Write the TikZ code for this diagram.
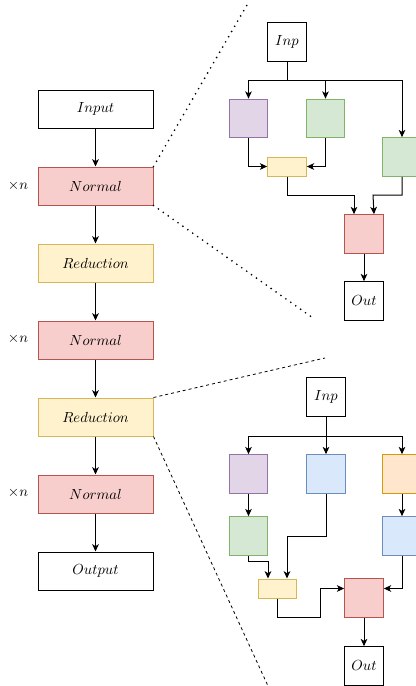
\documentclass[tikz,border=0pt]{standalone}
\usepackage{amssymb, amsmath}
\usepackage{tikz}
\usetikzlibrary{arrows.meta}

\definecolor{purplef}{HTML}{E1D5E7}\definecolor{purpled}{HTML}{9673A6}
\definecolor{greenf}{HTML}{D5E8D4}\definecolor{greend}{HTML}{82B366}
\definecolor{yellowf}{HTML}{FFF2CC}\definecolor{yellowd}{HTML}{D6B656}
\definecolor{redf}{HTML}{F8CECC}\definecolor{redd}{HTML}{B85450}
\definecolor{bluef}{HTML}{DAE8FC}\definecolor{blued}{HTML}{6C8EBF}
\definecolor{orangef}{HTML}{FFE6CC}\definecolor{oranged}{HTML}{D79B00}

\begin{document}
\begin{tikzpicture}[x=0.75pt,y=-0.75pt,->,>={Stealth[length=5.5pt,width=5pt,inset=1.5pt]},line width=0.75pt,node distance=57.75pt,
		font=\fontsize{10.5}{12}\selectfont,
		blk/.style={draw,minimum width=86.25pt,minimum height=28.5pt,inner sep=0pt},
		normal/.style={blk,fill=redf,draw=redd},
		redu/.style={blk,fill=yellowf,draw=yellowd},
		op/.style={draw,minimum size=29pt,inner sep=0pt},
		sum/.style={draw=yellowd,fill=yellowf,minimum width=29pt,minimum height=14.25pt,inner sep=0pt},
		dotline/.style={-,line width=1.4pt,line cap=round,dash pattern=on 0pt off 4.5pt},
		dashline/.style={-,line width=0.6pt,dash pattern=on 2.25pt off 2.25pt}]

		\useasboundingbox (0,0) rectangle (415,686);

		% outer network
		\node[blk] (1) at (95.5,109) {$Input$};
		\node[normal] (2) [below of=1] {$Normal$};
		\node[redu] (3) [below of=2] {$Reduction$};
		\node[normal] (4) [below of=3] {$Normal$};
		\node[redu] (5) [below of=4] {$Reduction$};
		\node[normal] (6) [below of=5] {$Normal$};
		\node[blk] (7) [below of=6] {$Output$};

		\node (x1) at (18,186) {$\times n$};
		\node (x2) at (18,339) {$\times n$};
		\node (x3) at (18,493) {$\times n$};

		\path (1) edge (2) (2) edge (3) (3) edge (4) (4) edge (5) (5) edge (6) (6) edge (7);

		% normal cell
		\node[op] (i1) at (287,42) {$Inp$};
		\node[op,fill=purplef,draw=purpled] (p1) at (248.5,118.5) {};
		\node[op,fill=greenf,draw=greend] (g1) at (325.5,118.5) {};
		\node[op,fill=greenf,draw=greend] (g2) at (402,157) {};
		\node[sum] (y1) at (287,166.5) {};
		\node[op,fill=redf,draw=redd] (r1) at (364,234) {};
		\node[op] (o1) at (364,301) {$Out$};

		\draw (i1) -- (287,80) -| (p1);
		\draw (i1) -- (287,80) -| (g1);
		\draw (i1) -- (287,80) -| (g2);
		\draw (p1) |- (y1);
		\draw (g1) |- (y1);
		\draw (y1) |- (354,195) -- ([xshift=-7.5pt]r1.north);
		\draw (g2) |- (373,195) -- ([xshift=7.5pt]r1.north);
		\draw (r1) -- (o1);

		\draw[dotline] (2.north east) -- (247,5);
		\draw[dotline] (2.south east) -- (313,318);

		% reduction cell
		\node[op] (i2) at (326,397) {$Inp$};
		\node[op,fill=purplef,draw=purpled] (p2) at (248.5,474) {};
		\node[op,fill=bluef,draw=blued] (b2) at (326,474) {};
		\node[op,fill=orangef,draw=oranged] (or2) at (402,474) {};
		\node[op,fill=greenf,draw=greend] (g3) at (248.5,536) {};
		\node[op,fill=bluef,draw=blued] (b3) at (402,536) {};
		\node[sum] (y2) at (277.5,588.5) {};
		\node[op,fill=redf,draw=redd] (r2) at (364,598) {};
		\node[op] (o2) at (364,666) {$Out$};

		\draw (i2) -- (326,436) -| (p2);
		\draw (i2) -- (b2);
		\draw (i2) -- (326,436) -| (or2);
		\draw (p2) -- (g3);
		\draw (or2) -- (b3);
		\draw (g3) |- (268,561) -- ([xshift=-7.125pt]y2.north);
		\draw (b2) |- (287,536) -- ([xshift=7.125pt]y2.north);
		\draw (y2) |- (320,617) |- ([yshift=7.125pt]r2.west);
		\draw (b3) |- ([yshift=7.125pt]r2.east);
		\draw (r2) -- (o2);

		\draw[dashline] (5.north east) -- (325,358);
		\draw[dashline] (5.south east) -- (268,686);
	\end{tikzpicture}
\end{document}
